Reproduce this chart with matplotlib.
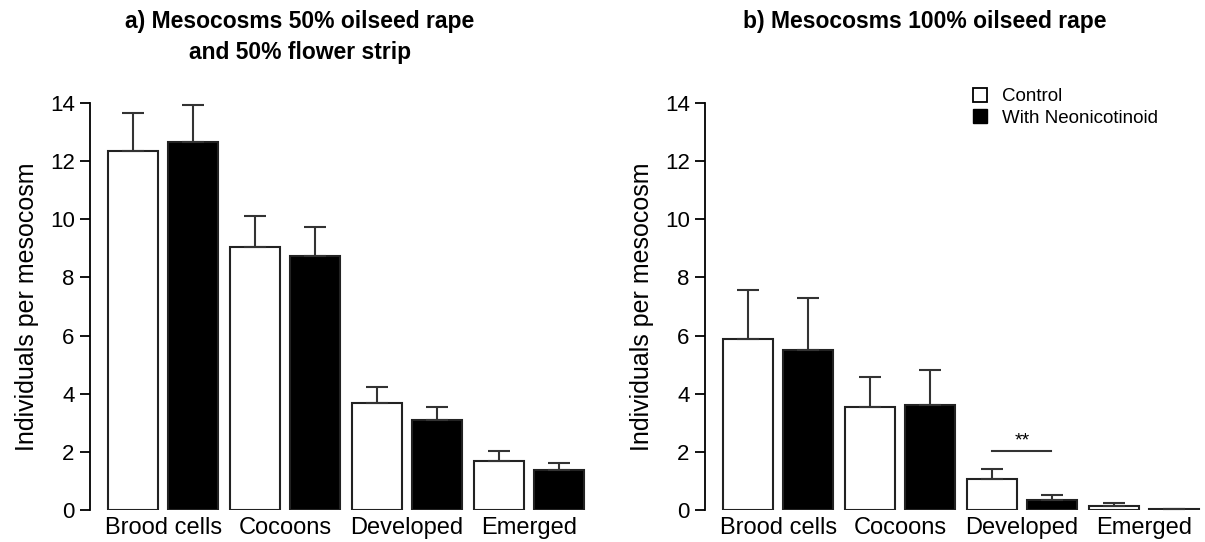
import numpy as np
import matplotlib.pyplot as plt
from matplotlib.patches import Patch

plt.rcParams['font.family'] = ['Liberation Sans', 'DejaVu Sans']

categories = ["Brood cells", "Cocoons", "Developed", "Emerged"]

# a) 50% oilseed rape + 50% flower strip
a_control = [12.35, 9.05, 3.68, 1.69]
a_control_se = [1.30, 1.06, 0.55, 0.34]
a_neonic = [12.66, 8.74, 3.10, 1.38]
a_neonic_se = [1.27, 1.00, 0.44, 0.24]

# b) 100% oilseed rape
b_control = [5.88, 3.54, 1.08, 0.14]
b_control_se = [1.69, 1.04, 0.34, 0.09]
b_neonic = [5.50, 3.61, 0.33, 0.05]
b_neonic_se = [1.79, 1.21, 0.20, 0.0]

# significance bar over "Developed" in panel b
sig_y = 2.03

fig = plt.figure(figsize=(12.05, 5.42), dpi=100)
ax_a = fig.add_axes([90 / 1205, 1 - 510 / 542, 500 / 1205, 407 / 542])
ax_b = fig.add_axes([705 / 1205, 1 - 510 / 542, 500 / 1205, 407 / 542])

x = np.arange(len(categories))
w = 0.41
off = 0.246
err_kw = dict(ecolor="#333333", elinewidth=1.5, capsize=8, capthick=1.5)


def draw(ax, ctrl, ctrl_se, neo, neo_se):
    ax.bar(x - off, ctrl, w, color="white", edgecolor="#222222", linewidth=1.5,
           yerr=[np.zeros(len(ctrl)), ctrl_se], error_kw=err_kw)
    ax.bar(x + off, neo, w, color="black", edgecolor="#222222", linewidth=1.5,
           yerr=[np.zeros(len(neo)), neo_se], error_kw=err_kw)
    ax.set_xlim(-0.6, 3.5)
    ax.set_ylim(0, 14)
    ax.set_yticks(range(0, 15, 2))
    for s in ["top", "right", "bottom"]:
        ax.spines[s].set_visible(False)
    ax.spines["left"].set_linewidth(1.3)
    ax.tick_params(axis="y", length=7, width=1.3, labelsize=16, pad=4)
    ax.tick_params(axis="x", length=0, labelsize=17, pad=5)
    ax.set_xticks(x)
    ax.set_xticklabels(categories)
    ax.set_ylabel("Individuals per mesocosm", fontsize=18, labelpad=8)


draw(ax_a, a_control, a_control_se, a_neonic, a_neonic_se)
draw(ax_b, b_control, b_control_se, b_neonic, b_neonic_se)

fig.text(300 / 1205, 1 - 10 / 542, "a) Mesocosms 50% oilseed rape\nand 50% flower strip",
         ha="center", va="top", fontsize=16.5, fontweight="bold", linespacing=1.45)
fig.text(925 / 1205, 1 - 10 / 542, "b) Mesocosms 100% oilseed rape",
         ha="center", va="top", fontsize=16.5, fontweight="bold")

ax_b.plot([2 - 0.246, 2 + 0.238], [sig_y, sig_y], color="#333333", lw=1.5)
ax_b.text(2, sig_y + 0.05, "**", ha="center", va="bottom", fontsize=14)

handles = [Patch(facecolor="white", edgecolor="black", linewidth=1.3, label="Control"),
           Patch(facecolor="black", edgecolor="black", label="With Neonicotinoid")]
fig.legend(handles=handles, loc="upper left", bbox_to_anchor=(973 / 1205, 1 - 88 / 542),
           frameon=False, fontsize=13.5, handlelength=0.75, handleheight=0.75,
           handletextpad=0.8, labelspacing=0.2, borderpad=0, borderaxespad=0)

fig.savefig("out.png", dpi=100)
